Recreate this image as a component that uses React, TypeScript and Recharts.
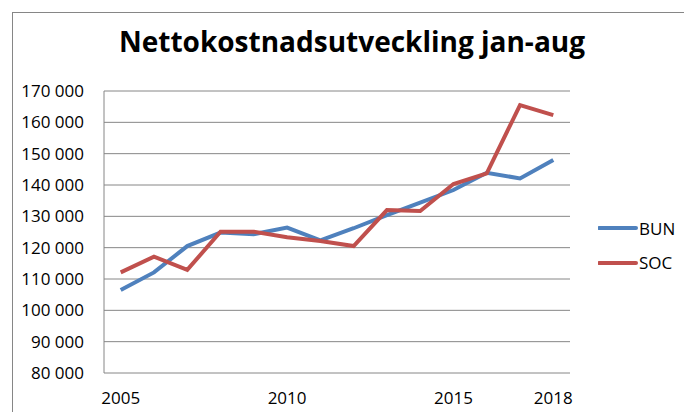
import { CartesianGrid, Legend, Line, LineChart, XAxis, YAxis } from 'recharts'

const years = ['2005', '2006', '2007', '2008', '2009', '2010', '2011', '2012', '2013', '2014', '2015', '2016', '2017', '2018']
const bun = [106500, 112100, 120500, 124800, 124300, 126400, 122300, 126200, 130400, 134400, 138400, 143900, 142100, 148000]
const soc = [112100, 117100, 112900, 125100, 125100, 123300, 122100, 120500, 132000, 131700, 140300, 143700, 165500, 162300]
const yTicks = [80000, 90000, 100000, 110000, 120000, 130000, 140000, 150000, 160000, 170000]
const xTicks = ['2005', '2010', '2015', '2018']

const data = years.map((year, i) => ({ year, BUN: bun[i], SOC: soc[i] }))

const font = '"Open Sans", sans-serif'
const grid = '#868686'

const fmt = (v: number) => String(v).replace(/\B(?=(\d{3})+(?!\d))/g, ' ')

function LegendBox({ payload }: any) {
  return (
    <div style={{ fontFamily: font, fontSize: 17, color: '#000' }}>
      {(payload || []).map((p: any) => (
        <div key={p.value} style={{ display: 'flex', alignItems: 'center', height: 34.4 }}>
          <svg width={40} height={6}>
            <line x1={1} y1={3} x2={38} y2={3} stroke={p.color} strokeWidth={4} strokeLinecap="round" />
          </svg>
          <span style={{ marginLeft: 1 }}>{p.value}</span>
        </div>
      ))}
    </div>
  )
}

export default function App() {
  return (
    <div style={{ position: 'absolute', left: 0, top: 0, width: 684, height: 412, overflow: 'hidden', background: '#fff' }}>
      <div style={{ position: 'absolute', left: 12, top: 12, width: 700, height: 420, border: `1px solid ${grid}` }} />
      <div
        style={{
          position: 'absolute',
          left: 0,
          width: 704,
          top: 24,
          textAlign: 'center',
          fontFamily: font,
          fontWeight: 700,
          fontSize: 28,
          lineHeight: '34px',
          color: '#000',
        }}
      >
        Nettokostnadsutveckling jan-aug
      </div>
      <LineChart width={684} height={412} data={data} margin={{ top: 91, right: 114, left: 14, bottom: 9 }}>
        <CartesianGrid stroke={grid} vertical={false} />
        <XAxis
          dataKey="year"
          ticks={xTicks}
          interval={0}
          axisLine={false}
          tickLine={false}
          tickSize={0}
          tickMargin={19}
          height={30}
          padding={{ left: 16.7, right: 16.7 }}
          tick={{ fill: '#000', fontSize: 17, fontFamily: font }}
        />
        <YAxis
          domain={[80000, 170000]}
          ticks={yTicks}
          interval={0}
          width={90}
          axisLine={{ stroke: grid }}
          tickLine={false}
          tickSize={0}
          tickMargin={20}
          tickFormatter={fmt}
          tick={{ fill: '#000', fontSize: 17, fontFamily: font }}
        />
        <Legend
          layout="vertical"
          align="center"
          verticalAlign="middle"
          content={<LegendBox />}
          wrapperStyle={{ left: 598, top: 211, width: 'auto' }}
        />
        <Line dataKey="BUN" stroke="#4F81BD" strokeWidth={4} dot={false} isAnimationActive={false} />
        <Line dataKey="SOC" stroke="#C0504D" strokeWidth={4} dot={false} isAnimationActive={false} />
      </LineChart>
    </div>
  )
}
